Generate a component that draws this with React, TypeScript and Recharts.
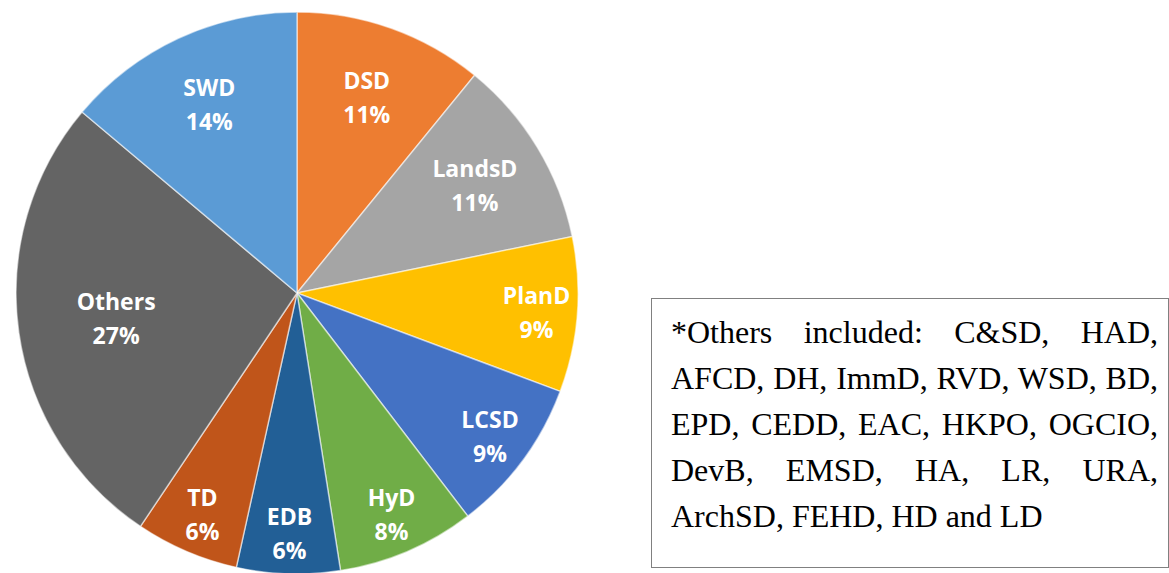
import React from 'react';
import { PieChart, Pie, Cell } from 'recharts';

// Share of cases by department, read clockwise from 12 o'clock
const departments = ['DSD', 'LandsD', 'PlanD', 'LCSD', 'HyD', 'EDB', 'TD', 'Others', 'SWD'];
const shares = [11, 11, 9, 9, 8, 6, 6, 27, 14];
const sliceColors = ['#ED7D31', '#A5A5A5', '#FFC000', '#4472C4', '#70AD47', '#225F96', '#C0551A', '#646464', '#5B9BD5'];

const noteLines = [
  '*Others included: C&SD, HAD,',
  'AFCD, DH, ImmD, RVD, WSD, BD,',
  'EPD, CEDD, EAC, HKPO, OGCIO,',
  'DevB, EMSD, HA, LR, URA,',
  'ArchSD, FEHD, HD and LD',
];

const data = departments.map((name, i) => ({ name, value: shares[i] }));

const RAD = Math.PI / 180;

const renderLabel = (props: any) => {
  const { cx, cy, midAngle, outerRadius, percent, index } = props;
  // big slices keep their label nearer the middle, small ones push it outwards
  const factor = percent >= 0.2 ? 0.65 : percent >= 0.1 ? 0.74 : 0.855;
  const r = outerRadius * factor;
  const x = cx + r * Math.cos(-midAngle * RAD);
  const y = cy + r * Math.sin(-midAngle * RAD);
  return (
    <text
      x={x}
      y={y}
      fill="#ffffff"
      textAnchor="middle"
      fontFamily="'Open Sans', sans-serif"
      fontWeight={700}
      fontSize={23}
    >
      <tspan x={x} y={y - 17} dominantBaseline="central">{departments[index]}</tspan>
      <tspan x={x} y={y + 17} dominantBaseline="central">{shares[index]}%</tspan>
    </text>
  );
};

const App: React.FC = () => {
  return (
    <div style={{ position: 'absolute', left: 0, top: 0, width: 1169, height: 573, background: '#fff', overflow: 'hidden' }}>
      <PieChart width={600} height={573} margin={{ top: 0, right: 0, bottom: 0, left: 0 }}>
        <Pie
          data={data}
          dataKey="value"
          nameKey="name"
          cx={297}
          cy={293}
          outerRadius={281}
          startAngle={90}
          endAngle={-270}
          stroke="#ffffff"
          strokeWidth={1.5}
          strokeOpacity={0.55}
          label={renderLabel}
          labelLine={false}
          isAnimationActive={false}
        >
          {data.map((d, i) => (
            <Cell key={d.name} fill={sliceColors[i]} />
          ))}
        </Pie>
      </PieChart>

      <div
        style={{
          position: 'absolute',
          left: 651,
          top: 298,
          width: 518,
          height: 270,
          boxSizing: 'border-box',
          border: '1px solid #808080',
          padding: '10px 10px 0 19px',
          fontFamily: "'Liberation Serif', 'Times New Roman', serif",
          fontSize: 32,
          lineHeight: '46px',
          color: '#000',
        }}
      >
        {noteLines.map((line, i) => (
          <div
            key={i}
            style={{
              textAlign: 'justify',
              textAlignLast: i < noteLines.length - 1 ? 'justify' : 'left',
              whiteSpace: 'nowrap',
            }}
          >
            {line}
          </div>
        ))}
      </div>
    </div>
  );
};

export default App;
